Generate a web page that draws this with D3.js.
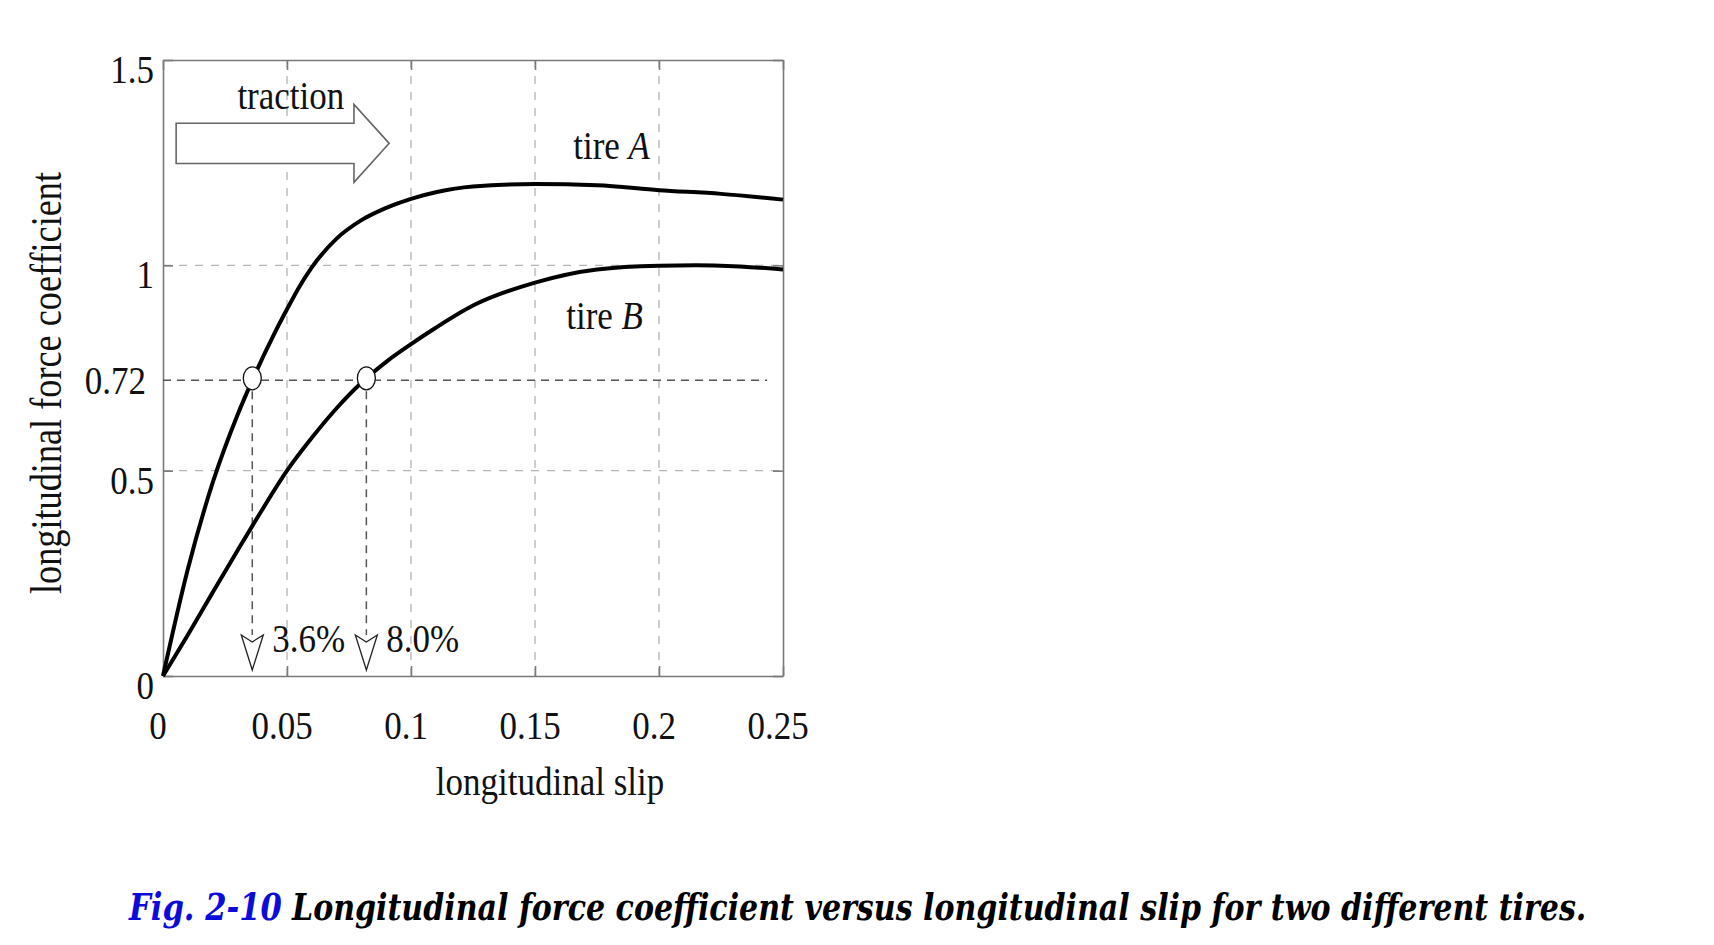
<!DOCTYPE html>
<html lang="en">
<head>
  <meta charset="utf-8">
  <title>Fig. 2-10</title>
  <script src="https://d3js.org/d3.v7.min.js"></script>
  <style>
    body { margin: 0; background: #fff; }
    .mychart text {
      font-family: "Liberation Serif", "Times New Roman", serif;
      fill: #111;
    }
    .mychart .eixo path, .mychart .eixo line {
      stroke: #7a7a7a;
      stroke-width: 1.6;
    }
    .mychart .grade {
      stroke: #b4b4b4;
      stroke-width: 1.3;
      stroke-dasharray: 8 8;
    }
    .mychart .guia {
      stroke: #555;
      stroke-width: 1.5;
      stroke-dasharray: 8 6;
    }
    .mychart .curva {
      fill: none;
      stroke: #000;
      stroke-width: 4;
      stroke-linejoin: round;
    }
    .mychart .legenda {
      font-family: "DejaVu Serif", serif;
      font-style: italic;
      font-weight: bold;
    }
  </style>
</head>
<body>
  <div class="mychart" id="chart"></div>

  <script type="text/javascript">
    "use strict"

    // values
    var slipA = [0, 0.01, 0.02, 0.03, 0.036, 0.045, 0.05, 0.055, 0.06, 0.07,
                 0.08, 0.09, 0.10, 0.11, 0.125, 0.15, 0.175, 0.2, 0.225, 0.25];
    var coefA = [0, 0.26, 0.47, 0.635, 0.72, 0.835, 0.893, 0.948, 0.995, 1.065,
                 1.11, 1.14, 1.162, 1.178, 1.192, 1.198, 1.195, 1.183, 1.174, 1.16];

    var slipB = [0, 0.01, 0.02, 0.03, 0.04, 0.05, 0.06, 0.07, 0.08, 0.09,
                 0.10, 0.11, 0.125, 0.15, 0.175, 0.2, 0.215, 0.23, 0.25];
    var coefB = [0, 0.10, 0.203, 0.305, 0.405, 0.50, 0.58, 0.652, 0.714, 0.765,
                 0.808, 0.848, 0.902, 0.958, 0.99, 0.999, 1.0, 0.998, 0.99];

    var xTicks = [0, 0.05, 0.1, 0.15, 0.2, 0.25];
    var xTickLabels = ["0", "0.05", "0.1", "0.15", "0.2", "0.25"];
    var yTicks = [0, 0.5, 1, 1.5];
    var yTickLabels = ["0", "0.5", "1", "1.5"];
    var xGrid = [0.05, 0.1, 0.15, 0.2];
    var yGrid = [0.5, 1];

    var markSlip = [0.036, 0.082];
    var markCoef = 0.72;
    var markLabels = ["3.6%", "8.0%"];
    var markLineEnd = 0.2436;

    // the scanned figure is a little taller than wide, so the text is stretched
    var ESTICA = 1.15;

    function rotulo(g, px, py, anchor, size) {
      return g.append('text')
        .attr('transform', 'translate(' + px + ',' + py + ') scale(1,' + ESTICA + ')')
        .attr('text-anchor', anchor)
        .style('font-size', size + 'px');
    }

    // caption pieces are squeezed sideways to the width they have in the figure
    function legenda(svg, px, py, largura, cor, texto) {
      var t = svg.append('text')
        .attr('class', 'legenda')
        .style('font-size', '38px')
        .style('fill', cor)
        .text(texto);
      var k = largura / t.node().getComputedTextLength();
      t.attr('transform', 'translate(' + px + ',' + py + ') scale(' + k + ',1)');
      return t;
    }

    function desenha() {
      var larguraSVG = 1714, alturaSVG = 945;
      var margin = {top: 60, right: 931, bottom: 269, left: 163},
      larguraVis = larguraSVG - margin.left - margin.right,
      alturaVis = alturaSVG - margin.top - margin.bottom;

      var svg = d3.select('#chart')
        .append('svg')
          .attr('width', larguraSVG)
          .attr('height', alturaSVG);

      var grafico = svg.append('g')
          .attr('transform', 'translate(' + margin.left + ',' + margin.top + ')');

      var x = d3.scaleLinear().domain([0, 0.25]).range([0, larguraVis]);
      var y = d3.scaleLinear().domain([0, 1.5]).range([alturaVis, 0]);

      // grid
      grafico.selectAll('.gx').data(xGrid).enter().append('line')
        .attr('class', 'grade')
        .attr('x1', function(d) { return x(d); }).attr('x2', function(d) { return x(d); })
        .attr('y1', y(0)).attr('y2', y(1.5));
      grafico.selectAll('.gy').data(yGrid).enter().append('line')
        .attr('class', 'grade')
        .attr('y1', function(d) { return y(d); }).attr('y2', function(d) { return y(d); })
        .attr('x1', x(0)).attr('x2', x(0.25));

      // axes, ticks pointing inwards on all four sides
      grafico.append('g').attr('class', 'eixo')
        .attr('transform', 'translate(0,' + alturaVis + ')')
        .call(d3.axisBottom(x).tickValues(xTicks).tickSize(-10).tickSizeOuter(0).tickFormat(''));
      grafico.append('g').attr('class', 'eixo')
        .call(d3.axisLeft(y).tickValues(yTicks).tickSize(-10).tickSizeOuter(0).tickFormat(''));
      grafico.append('g').attr('class', 'eixo')
        .call(d3.axisTop(x).tickValues(xTicks).tickSize(-10).tickSizeOuter(0).tickFormat(''));
      grafico.append('g').attr('class', 'eixo')
        .attr('transform', 'translate(' + larguraVis + ',0)')
        .call(d3.axisRight(y).tickValues(yTicks).tickSize(-10).tickSizeOuter(0).tickFormat(''));

      // tick labels
      xTicks.forEach(function(d, i) {
        rotulo(grafico, x(d) - 5, alturaVis + 63, 'middle', 35).text(xTickLabels[i]);
      });
      yTicks.forEach(function(d, i) {
        rotulo(grafico, -9, y(d) + 23, 'end', 35).text(yTickLabels[i]);
      });
      rotulo(grafico, -17, y(markCoef) + 14, 'end', 35).text('0.72');

      // 0.72 level
      grafico.append('line').attr('class', 'guia')
        .attr('x1', x(0)).attr('x2', x(markLineEnd))
        .attr('y1', y(markCoef)).attr('y2', y(markCoef));

      // vertical guides down to the slip arrows
      grafico.selectAll('.gv').data(markSlip).enter().append('line')
        .attr('class', 'guia')
        .attr('x1', function(d) { return x(d); }).attr('x2', function(d) { return x(d); })
        .attr('y1', y(markCoef) + 11).attr('y2', y(0.1));

      grafico.selectAll('.seta').data(markSlip).enter().append('path')
        .attr('d', function(d) {
          var cx = x(d), topo = y(0.1);
          return 'M' + (cx - 11) + ',' + topo + 'L' + cx + ',' + (topo + 7) +
                 'L' + (cx + 11) + ',' + topo + 'L' + cx + ',' + (y(0) - 6) + 'Z';
        })
        .attr('fill', '#fff').attr('stroke', '#222').attr('stroke-width', 1.3);

      markSlip.forEach(function(d, i) {
        rotulo(grafico, x(d) + 20, y(0.058), 'start', 35).text(markLabels[i]);
      });

      // curves
      var linha = d3.line()
        .x(function(d) { return x(d[0]); })
        .y(function(d) { return y(d[1]); })
        .curve(d3.curveMonotoneX);

      grafico.append('path').attr('class', 'curva')
        .attr('d', linha(d3.zip(slipA, coefA)));
      grafico.append('path').attr('class', 'curva')
        .attr('d', linha(d3.zip(slipB, coefB)));

      grafico.selectAll('.marca').data(markSlip).enter().append('ellipse')
        .attr('cx', function(d) { return x(d); })
        .attr('cy', y(markCoef) - 2)
        .attr('rx', 9).attr('ry', 11.5)
        .attr('fill', '#fff').attr('stroke', '#111').attr('stroke-width', 1.3);

      // traction arrow
      var sx0 = x(0.0053), sx1 = x(0.077), tip = x(0.0912);
      var yc = y(1.297), h = y(1.248) - y(1.297), hh = y(1.202) - y(1.297);
      grafico.append('path')
        .attr('d', 'M' + sx0 + ',' + (yc - h) + 'L' + sx1 + ',' + (yc - h) + 'L' + sx1 + ',' + (yc - hh) +
                   'L' + tip + ',' + yc + 'L' + sx1 + ',' + (yc + hh) + 'L' + sx1 + ',' + (yc + h) +
                   'L' + sx0 + ',' + (yc + h) + 'Z')
        .attr('fill', '#fff').attr('stroke', '#666').attr('stroke-width', 1.6);

      rotulo(grafico, x(0.030), y(1.38), 'start', 35).text('traction');

      var tA = rotulo(grafico, x(0.1654), y(1.26), 'start', 35);
      tA.append('tspan').text('tire ');
      tA.append('tspan').style('font-style', 'italic').text('A');

      var tB = rotulo(grafico, x(0.1626), y(0.844), 'start', 35);
      tB.append('tspan').text('tire ');
      tB.append('tspan').style('font-style', 'italic').text('B');

      // axis titles
      rotulo(grafico, 387, alturaVis + 119, 'middle', 35).text('longitudinal slip');

      grafico.append('text')
        .attr('text-anchor', 'middle')
        .attr('transform', 'translate(-102,' + (alturaVis / 2 + 15) + ') rotate(-90)')
        .attr('textLength', 422)
        .attr('lengthAdjust', 'spacingAndGlyphs')
        .style('font-size', '45px')
        .text('longitudinal force coefficient');

      // caption
      legenda(svg, 129, 920, 153, '#0b0bdc', 'Fig. 2-10');
      legenda(svg, 292, 920, 1295, '#000',
        'Longitudinal force coefficient versus longitudinal slip for two different tires.');
    }

    desenha();
  </script>
</body>
</html>
